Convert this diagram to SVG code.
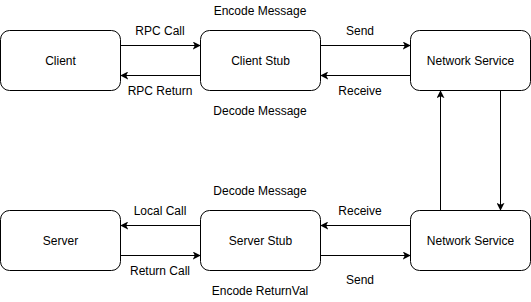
<svg xmlns="http://www.w3.org/2000/svg" width="531" height="302" viewBox="0 0 531 302">
  <style>
    .box { fill: #ffffff; stroke: #000000; stroke-width: 1; }
    .edge { fill: none; stroke: #000000; stroke-width: 1; }
    text { font-family: "Liberation Sans", Arial, Helvetica, sans-serif; font-size: 12px; fill: #000000; text-anchor: middle; }
  </style>
  <defs>
    <marker id="arrow" viewBox="0 0 10 10" refX="9" refY="5" markerWidth="8" markerHeight="8" markerUnits="userSpaceOnUse" orient="auto">
      <path d="M0,0 L10,5 L0,10 L2.5,5 Z" fill="#000000"/>
    </marker>
  </defs>
  <rect width="531" height="302" fill="#ffffff"/>

  <g id="connectors">
    <line class="edge" x1="120.5" y1="45.5" x2="200" y2="45.5" marker-end="url(#arrow)"/>
    <line class="edge" x1="200.5" y1="75.5" x2="121" y2="75.5" marker-end="url(#arrow)"/>
    <line class="edge" x1="320.5" y1="45.5" x2="410" y2="45.5" marker-end="url(#arrow)"/>
    <line class="edge" x1="410.5" y1="75.5" x2="321" y2="75.5" marker-end="url(#arrow)"/>
    <line class="edge" x1="440.5" y1="210.5" x2="440.5" y2="91" marker-end="url(#arrow)"/>
    <line class="edge" x1="500.5" y1="90.5" x2="500.5" y2="210" marker-end="url(#arrow)"/>
    <line class="edge" x1="200.5" y1="225.5" x2="121" y2="225.5" marker-end="url(#arrow)"/>
    <line class="edge" x1="120.5" y1="255.5" x2="200" y2="255.5" marker-end="url(#arrow)"/>
    <line class="edge" x1="410.5" y1="225.5" x2="321" y2="225.5" marker-end="url(#arrow)"/>
    <line class="edge" x1="320.5" y1="255.5" x2="410" y2="255.5" marker-end="url(#arrow)"/>
    <text x="160" y="35">RPC Call</text>
    <text x="160" y="95">RPC Return</text>
    <text x="260" y="15">Encode Message</text>
    <text x="260" y="115">Decode Message</text>
    <text x="360" y="35">Send</text>
    <text x="360" y="95">Receive</text>
    <text x="260" y="195">Decode Message</text>
    <text x="160" y="215">Local Call</text>
    <text x="160" y="275">Return Call</text>
    <text x="260" y="295">Encode ReturnVal</text>
    <text x="360" y="215">Receive</text>
    <text x="360" y="284">Send</text>
  </g>

  <g id="client">
    <rect class="box" x="0.5" y="30.5" width="120" height="60" rx="9" ry="9"/>
    <text x="60.5" y="65">Client</text>
  </g>
  <g id="client-stub">
    <rect class="box" x="200.5" y="30.5" width="120" height="60" rx="9" ry="9"/>
    <text x="260.5" y="65">Client Stub</text>
  </g>
  <g id="network-service-top">
    <rect class="box" x="410.5" y="30.5" width="120" height="60" rx="9" ry="9"/>
    <text x="470.5" y="65">Network Service</text>
  </g>
  <g id="server">
    <rect class="box" x="0.5" y="210.5" width="120" height="60" rx="9" ry="9"/>
    <text x="60.5" y="245">Server</text>
  </g>
  <g id="server-stub">
    <rect class="box" x="200.5" y="210.5" width="120" height="60" rx="9" ry="9"/>
    <text x="260.5" y="245">Server Stub</text>
  </g>
  <g id="network-service-bottom">
    <rect class="box" x="410.5" y="210.5" width="120" height="60" rx="9" ry="9"/>
    <text x="470.5" y="245">Network Service</text>
  </g>
</svg>
